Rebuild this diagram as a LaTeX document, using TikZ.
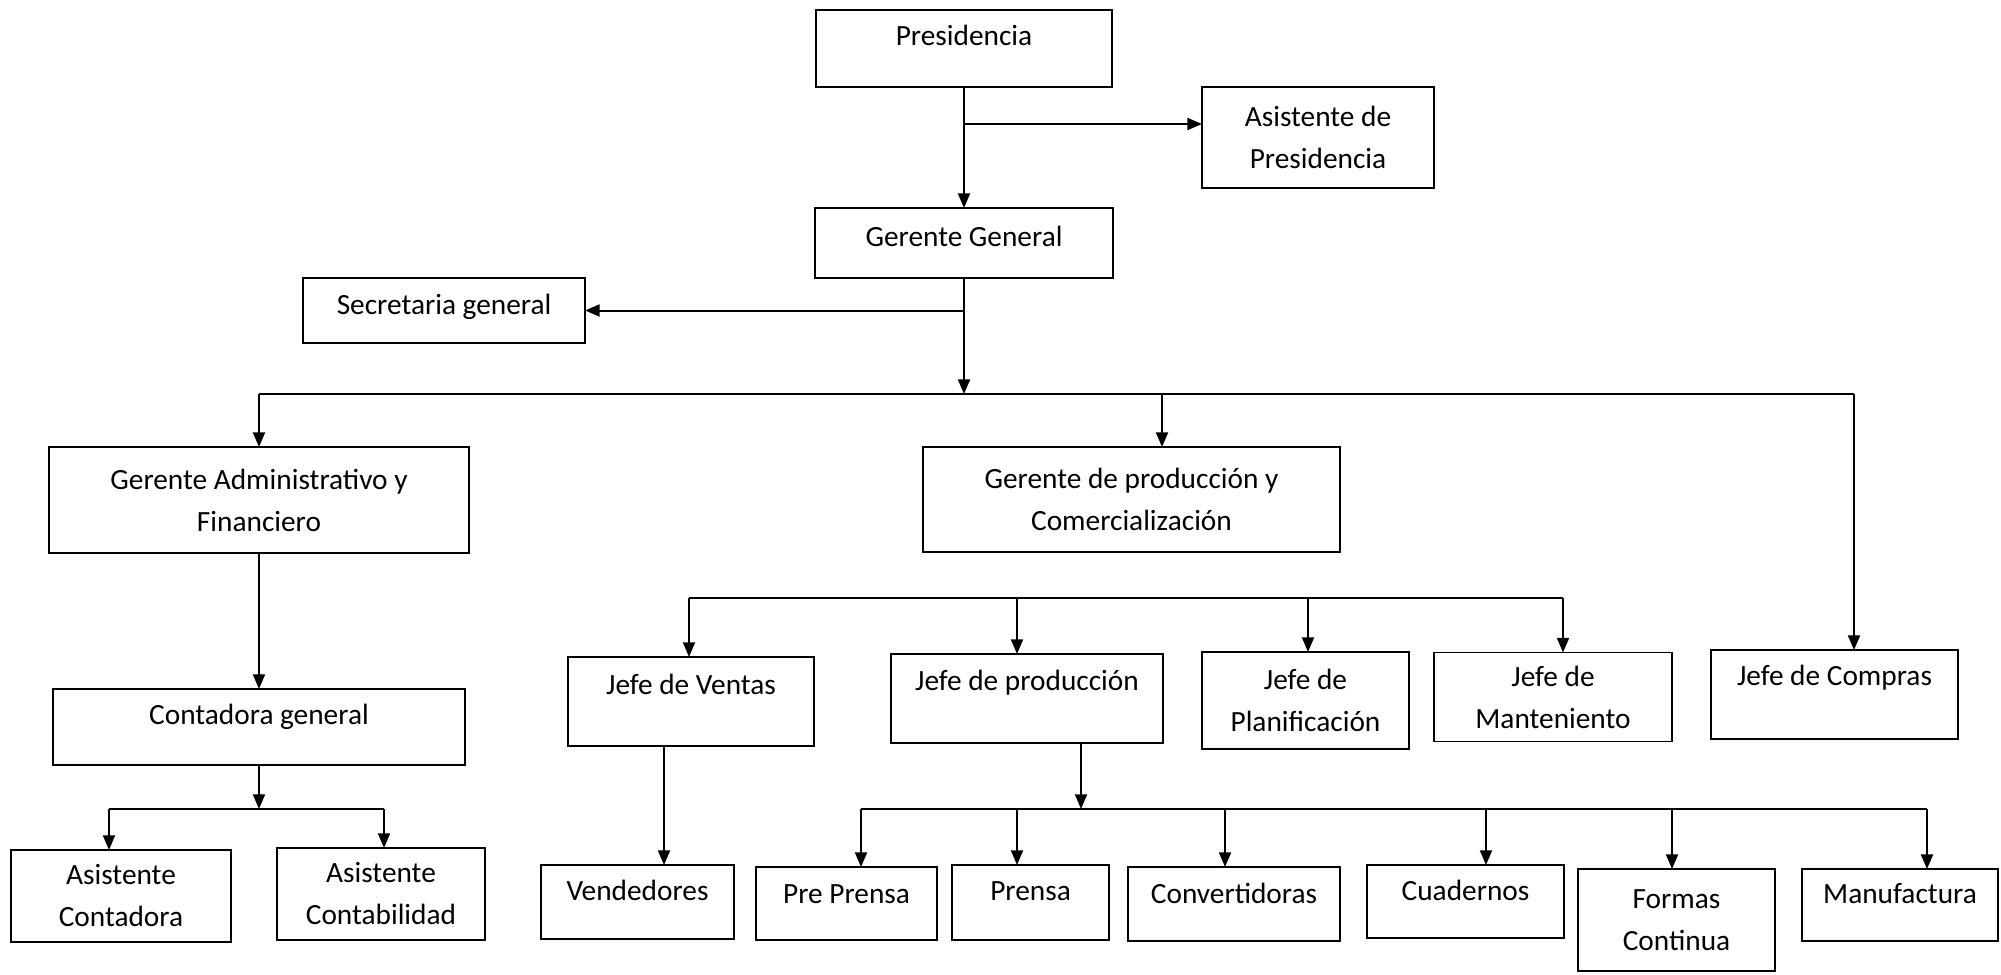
\documentclass[tikz,border=0pt]{standalone}
\usepackage{fontspec}
\setmainfont{Carlito}
\usetikzlibrary{arrows.meta}

\tikzset{
  caja/.style 2 args={draw, line width=1.1pt, outer sep=0pt, inner sep=2pt,
    minimum width=#1*0.75pt, minimum height=#2*0.75pt,
    font=\fontsize{22}{31.5}\selectfont},
  una/.style={text height=16pt, text depth=#1},
  dos/.style={align=center},
  linea/.style={line width=1.5pt},
  flecha/.style={linea, -{Triangle[length=11pt,width=9pt]}}
}

\begin{document}
\begin{tikzpicture}[x=0.75pt, y=-0.75pt]
\useasboundingbox (0,0) rectangle (2001,974);

\node[caja={296}{77}, una=20pt] (pres) at (964,48.5) {Presidencia};
\node[caja={232}{101}, dos] (asist) at (1318,137.5) {Asistente de\\Presidencia};
\node[caja={298}{70}, una=11pt] (gg) at (964,243) {Gerente General};
\node[caja={282}{65}, una=9.5pt] (sec) at (444,310.5) {Secretaria general};

\node[caja={420}{106}, dos] (gaf) at (259,500) {Gerente Administrativo y\\Financiero};
\node[caja={417}{105}, dos] (gpc) at (1131.5,499.5) {Gerente de producción y\\Comercialización};

\node[caja={412}{76}, una=20pt] (cg) at (259,727) {Contadora general};
\node[caja={220}{92}, dos] (ac) at (121,896) {Asistente\\Contadora};
\node[caja={208}{92}, dos] (acb) at (381,894) {Asistente\\Contabilidad};

\node[caja={246}{89}, una=26pt] (jv) at (691,701.5) {Jefe de Ventas};
\node[caja={272}{89}, una=27.5pt] (jp) at (1027,698.5) {Jefe de producción};
\node[caja={207}{97}, dos] (jpl) at (1305.5,700.5) {Jefe de\\Planificación};
\node[caja={238}{89}, dos] (jm) at (1553,697) {Jefe de\\Manteniento};
\node[caja={247}{89}, una=29pt] (jc) at (1834.5,694.5) {Jefe de Compras};

\node[caja={193}{74}, una=18.5pt] (ven) at (637.5,902) {Vendedores};
\node[caja={181}{73}, una=15.5pt] (pp) at (846.5,903.5) {Pre Prensa};
\node[caja={157}{75}, una=18.5pt] (pr) at (1030.5,902.5) {Prensa};
\node[caja={212}{74}, una=17pt] (conv) at (1234,904) {Convertidoras};
\node[caja={197}{73}, una=17pt] (cuad) at (1465.5,901.5) {Cuadernos};
\node[caja={197}{102}, dos] (fc) at (1676.5,920) {Formas\\Continua};
\node[caja={196}{72}, una=18.5pt] (man) at (1900,905) {Manufactura};

\coordinate (a1) at (964,124);
\coordinate (s1) at (964,310.5);
\coordinate (b1) at (964,394);
\coordinate (b2) at (1854,394);
\coordinate (b3) at (1162,394);
\coordinate (c1) at (259,809);
\coordinate (c2) at (109,809);
\coordinate (c3) at (384,809);
\coordinate (m1) at (689,598);
\coordinate (m2) at (1017,598);
\coordinate (m3) at (1308,598);
\coordinate (m4) at (1563,598);
\coordinate (v1) at (664,746);
\coordinate (p0) at (1081,809);
\coordinate (p1) at (861,809);
\coordinate (p2) at (1017,809);
\coordinate (p3) at (1225,809);
\coordinate (p4) at (1486,809);
\coordinate (p5) at (1672,809);
\coordinate (p6) at (1927,809);

\draw[flecha] (pres.south) -- (gg.north);
\draw[flecha] (a1) -- (a1 -| asist.west);
\draw[flecha] (s1) -- (s1 -| sec.east);
\draw[flecha] (gg.south) -- (b1);

\draw[linea] (b1 -| gaf.north) -- (b2);
\draw[flecha] (b1 -| gaf.north) -- (gaf.north);
\draw[flecha] (b3) -- (b3 |- gpc.north);
\draw[flecha] (b2) -- (b2 |- jc.north);

\draw[flecha] (gaf.south) -- (cg.north);
\draw[flecha] (cg.south) -- (c1);
\draw[linea] (c2) -- (c3);
\draw[flecha] (c2) -- (c2 |- ac.north);
\draw[flecha] (c3) -- (c3 |- acb.north);

\draw[linea] (m1) -- (m4);
\draw[flecha] (m1) -- (m1 |- jv.north);
\draw[flecha] (m2) -- (m2 |- jp.north);
\draw[flecha] (m3) -- (m3 |- jpl.north);
\draw[flecha] (m4) -- (m4 |- jm.north);

\draw[flecha] (v1) -- (v1 |- ven.north);

\draw[flecha] (p0 |- jp.south) -- (p0);
\draw[linea] (p1) -- (p6);
\draw[flecha] (p1) -- (p1 |- pp.north);
\draw[flecha] (p2) -- (p2 |- pr.north);
\draw[flecha] (p3) -- (p3 |- conv.north);
\draw[flecha] (p4) -- (p4 |- cuad.north);
\draw[flecha] (p5) -- (p5 |- fc.north);
\draw[flecha] (p6) -- (p6 |- man.north);

\end{tikzpicture}
\end{document}
